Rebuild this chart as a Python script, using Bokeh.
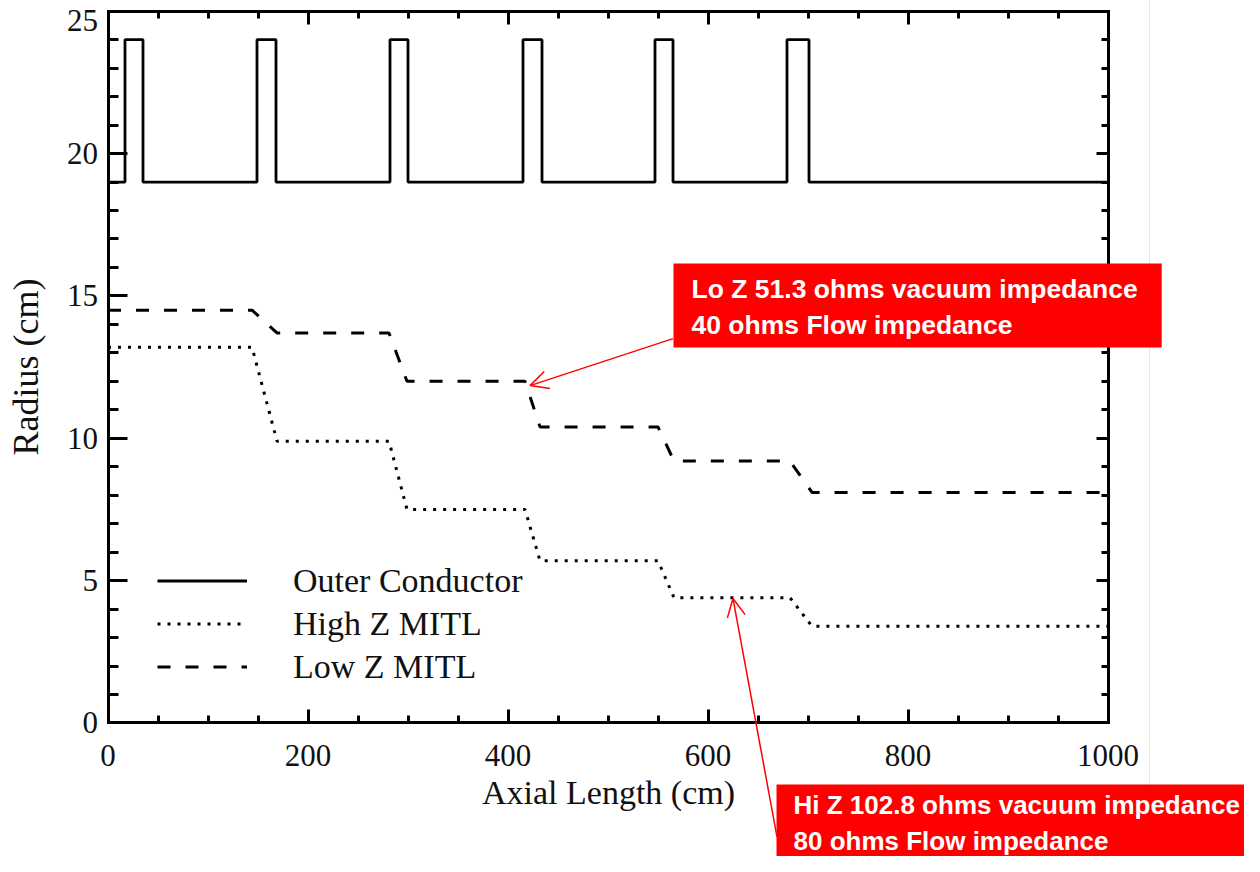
from bokeh.plotting import figure
from bokeh.models import (Range1d, LinearAxis, SingleIntervalTicker, Legend, LegendItem,
                          Label, Arrow, OpenHead, Span, CustomLabelingPolicy)
from bokeh.embed import file_html
from bokeh.resources import INLINE

# ---------------- data ----------------
pulse_start = [17, 149, 282, 415, 547, 679]
pulse_end = [35, 168, 300, 434, 565, 701]
outer_base = 19.0
outer_peak = 24.0
x_min, x_max = 0, 1000
y_min, y_max = 0, 25

step_start = [144, 281, 417, 550, 682]
step_end = [169, 299, 432, 566, 704]
low_z_levels = [14.5, 13.7, 12.0, 10.4, 9.2, 8.1]
high_z_levels = [13.2, 9.9, 7.5, 5.7, 4.4, 3.4]

series_names = ["Outer Conductor", "High Z MITL", "Low Z MITL"]
x_title = "Axial Length (cm)"
y_title = "Radius (cm)"
lo_note = "Lo Z 51.3 ohms vacuum impedance\n40 ohms Flow impedance"
hi_note = "Hi Z 102.8 ohms vacuum impedance\n80 ohms Flow impedance"

# ---------------- build line coordinates ----------------
ox, oy = [x_min], [outer_base]
for s, e in zip(pulse_start, pulse_end):
    ox += [s, s, e, e]
    oy += [outer_base, outer_peak, outer_peak, outer_base]
ox.append(x_max)
oy.append(outer_base)


def steps(levels):
    xs, ys = [x_min], [levels[0]]
    for i, (s, e) in enumerate(zip(step_start, step_end)):
        xs += [s, e]
        ys += [levels[i], levels[i + 1]]
    xs.append(x_max)
    ys.append(levels[-1])
    return xs, ys


lx, ly = steps(low_z_levels)
hx, hy = steps(high_z_levels)

SERIF = "Liberation Serif"
INK = "#111111"

# The frame covers the whole canvas; the axes are pinned at the data box
# edges (fixed_location) so the call-out boxes outside the axes box are not clipped.
p = figure(width=1244, height=856, output_backend="svg", toolbar_location=None,
           x_range=Range1d(-107.5, 1136.5), y_range=Range1d(-4.689, 25.376),
           min_border=0, min_border_left=0, min_border_right=0,
           min_border_top=0, min_border_bottom=0,
           x_axis_location=None, y_axis_location=None)
p.xgrid.visible = False
p.ygrid.visible = False
p.outline_line_color = None
p.background_fill_color = "white"
p.border_fill_color = "white"

no_labels = CustomLabelingPolicy(code="""
for (const i of indices) { indices.unset(i) }
return indices
""")
# the top tick label is drawn separately (lowered so it is not cut by the page edge)
drop_last = CustomLabelingPolicy(code="""
let last = -1
for (const i of indices) { last = i }
if (last >= 0) { indices.unset(last) }
return indices
""")


def style_axis(ax, tin, tmin, labels=True):
    ax.axis_line_width = 3
    ax.axis_line_color = "black"
    ax.axis_line_cap = "square"
    ax.major_tick_line_width = 3
    ax.minor_tick_line_width = 3
    ax.major_tick_in = tin
    ax.major_tick_out = 0
    ax.minor_tick_in = tmin
    ax.minor_tick_out = 0
    if labels:
        ax.major_label_text_font = SERIF
        ax.major_label_text_font_size = "31px"
        ax.major_label_text_color = INK
        ax.axis_label_text_font = SERIF
        ax.axis_label_text_font_style = "normal"
        ax.axis_label_text_color = INK
    else:
        ax.major_label_policy = no_labels


xb = LinearAxis(ticker=SingleIntervalTicker(interval=200, num_minor_ticks=4), axis_label=x_title,
                fixed_location=y_min, bounds=(x_min, x_max))
style_axis(xb, 13, 7)
xb.axis_label_text_font_size = "34px"
xb.major_label_standoff = 22
xb.axis_label_standoff = 5
p.add_layout(xb, "below")

xt = LinearAxis(ticker=SingleIntervalTicker(interval=200, num_minor_ticks=4),
                fixed_location=y_max, bounds=(x_min, x_max))
style_axis(xt, 13, 7, labels=False)
p.add_layout(xt, "above")

yl = LinearAxis(ticker=SingleIntervalTicker(interval=5, num_minor_ticks=5), axis_label=y_title,
                fixed_location=x_min, bounds=(y_min, y_max))
style_axis(yl, 19, 10)
yl.axis_label_text_font_size = "36px"
yl.major_label_standoff = 10
yl.axis_label_standoff = 19
yl.major_label_policy = drop_last
p.add_layout(yl, "left")

yr = LinearAxis(ticker=SingleIntervalTicker(interval=5, num_minor_ticks=5),
                fixed_location=x_max, bounds=(y_min, y_max))
style_axis(yr, 12, 7, labels=False)
p.add_layout(yr, "right")

p.add_layout(Label(x=x_min, y=y_max, x_offset=-10, y_offset=-9, text=str(y_max),
                   text_align="right", text_baseline="middle", text_font=SERIF,
                   text_font_size="31px", text_color=INK))

r_outer = p.line(ox, oy, line_color="black", line_width=2.8)
r_high = p.line(hx, hy, line_color="black", line_width=3, line_dash="3 7")
r_low = p.line(lx, ly, line_color="black", line_width=3, line_dash="13 15")

legend = Legend(items=[LegendItem(label=series_names[0], renderers=[r_outer]),
                       LegendItem(label=series_names[1], renderers=[r_high]),
                       LegendItem(label=series_names[2], renderers=[r_low])],
                location=(157, 168), orientation="vertical",
                glyph_width=90, glyph_height=43, label_height=43, label_standoff=46,
                spacing=0, padding=0, margin=0, border_line_color=None,
                background_fill_alpha=0,
                label_text_font=SERIF, label_text_font_size="34px", label_text_color=INK)
p.add_layout(legend, "center")

# faint edge of the pasted figure
p.add_layout(Span(location=1041.5, dimension="height", line_color="#e6e6e6", line_width=1))

# ---------------- annotations ----------------
p.add_layout(Arrow(x_start=565, y_start=13.5, x_end=422, y_end=11.85,
                   line_color="red", line_width=1.5,
                   end=OpenHead(size=18, line_color="red", line_width=1.5)))
p.add_layout(Arrow(x_start=669, y_start=-4.0, x_end=625, y_end=4.37,
                   line_color="red", line_width=1.5,
                   end=OpenHead(size=18, line_color="red", line_width=1.5)))

note_style = dict(text_font="Liberation Sans", text_font_style="bold",
                  text_color="white", background_fill_color="red", background_fill_alpha=1.0,
                  text_align="left", text_baseline="top", text_line_height=1.2)
p.add_layout(Label(x=565.5, y=16.14, text=lo_note, padding=(18, 24, 11, 7),
                   text_font_size="26.5px", **note_style))
p.add_layout(Label(x=668.5, y=-2.16, text=hi_note, padding=(17, 40, 6, 40),
                   text_font_size="26px", **note_style))

open("out.html", "w").write(file_html(p, INLINE))
